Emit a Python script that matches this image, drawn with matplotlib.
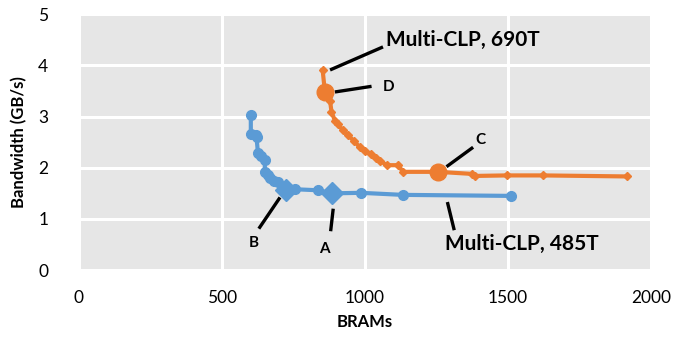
import matplotlib
matplotlib.use("Agg")
import matplotlib.pyplot as plt

plt.rcParams["font.family"] = ["Lato", "DejaVu Sans"]

# Multi-CLP on 485T (blue) and 690T (orange)
brams_485 = [601, 601, 618, 621, 626, 636, 650, 650, 660, 668, 682, 696, 724, 755, 836, 885, 986, 1132, 1512]
bw_485 = [3.03, 2.66, 2.63, 2.60, 2.28, 2.22, 2.16, 1.92, 1.86, 1.79, 1.75, 1.72, 1.56, 1.58, 1.56, 1.50, 1.51, 1.47, 1.45]
brams_690 = [852, 860, 872, 878, 883, 895, 905, 923, 940, 960, 982, 1000, 1020, 1040, 1052, 1076, 1116, 1133,
             1255, 1373, 1385, 1495, 1623, 1915]
bw_690 = [3.91, 3.48, 3.38, 3.31, 3.09, 2.92, 2.85, 2.73, 2.64, 2.53, 2.40, 2.33, 2.26, 2.19, 2.14, 2.05, 2.05, 1.92,
          1.92, 1.88, 1.84, 1.85, 1.85, 1.83]

# highlighted design points
pts_485 = {"B": (724, 1.56), "A": (885, 1.50)}
pts_690 = {"D": (860, 3.48), "C": (1255, 1.92)}

blue = "#5B9BD5"
orange = "#ED7D31"

fig = plt.figure(figsize=(6.74, 3.45), dpi=100)
ax = fig.add_axes([0.117, 0.217, 0.849, 0.742])
ax.set_facecolor("#E6E6E6")
for s in ax.spines.values():
    s.set_visible(False)
ax.grid(True, color="white", linewidth=2.2)
ax.set_axisbelow(True)

ax.plot(brams_485, bw_485, color=blue, lw=3, marker="o", ms=7, zorder=3)
ax.plot(brams_690, bw_690, color=orange, lw=3, marker="D", ms=4.5, zorder=3)
for k, (x, y) in pts_485.items():
    ax.plot(x, y, marker="D", ms=11, color=blue, zorder=4)
for k, (x, y) in pts_690.items():
    ax.plot(x, y, marker="o", ms=12, color=orange, zorder=4)

ax.set_xlim(0, 2000)
ax.set_ylim(0, 5)
ax.set_xticks([0, 500, 1000, 1500, 2000])
ax.set_yticks([0, 1, 2, 3, 4, 5])
ax.tick_params(length=0, labelsize=12.5, pad=14)
ax.tick_params(axis="y", pad=22)
ax.set_xlabel("BRAMs", fontsize=12, fontweight="bold", labelpad=6)
ax.set_ylabel("Bandwidth (GB/s)", fontsize=12, fontweight="bold", labelpad=8)

# callout lines and labels
lk = dict(color="black", lw=2.4, solid_capstyle="butt", zorder=5)
ax.plot([878, 1063], [3.91, 4.36], **lk)
ax.text(1073, 4.49, "Multi-CLP, 690T", fontsize=15, fontweight="bold", va="center")
ax.plot([895, 1023], [3.48, 3.59], **lk)
ax.text(1063, 3.57, "D", fontsize=11, fontweight="bold", va="center")
ax.plot([1285, 1378], [2.02, 2.40], **lk)
ax.text(1402, 2.54, "C", fontsize=11, fontweight="bold", va="center", ha="center")
ax.plot([703, 629], [1.42, 0.81], **lk)
ax.text(612, 0.53, "B", fontsize=11, fontweight="bold", va="center", ha="center")
ax.plot([889, 880], [1.20, 0.76], **lk)
ax.text(857, 0.41, "A", fontsize=11, fontweight="bold", va="center", ha="center")
ax.plot([1288, 1312], [1.33, 0.78], **lk)
ax.text(1280, 0.51, "Multi-CLP, 485T", fontsize=15, fontweight="bold", va="center")

fig.savefig("out.png", dpi=100)
